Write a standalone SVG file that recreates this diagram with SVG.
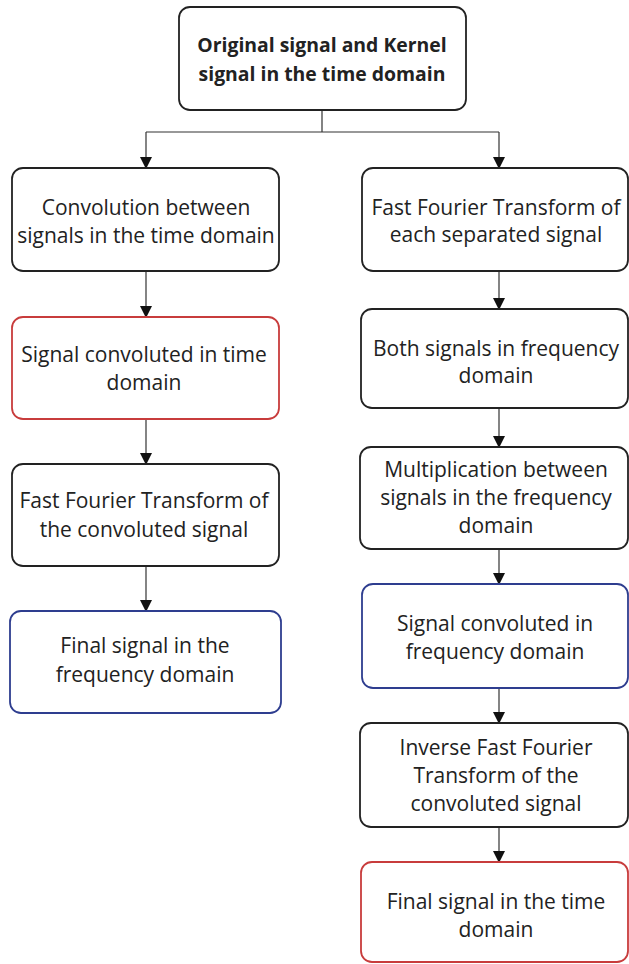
<svg xmlns="http://www.w3.org/2000/svg" width="629" height="964" viewBox="0 0 629 964">
<style>
.box{fill:#fff;stroke:#222;stroke-width:1.8}
.red{stroke:#c83c3c}
.blue{stroke:#2e3d8f}
.t{font-family:"Open Sans","Noto Sans",sans-serif;font-size:21px;fill:#222;text-anchor:middle}
.b{font-weight:bold;font-size:19.4px}
.c{stroke:#333;stroke-width:1.2;fill:none}
</style>
<defs>
<marker id="ah" markerUnits="userSpaceOnUse" markerWidth="12" markerHeight="14" refX="11" refY="6" orient="auto">
<path d="M0,0 L12,6 L0,12 Z" fill="#111"/>
</marker>
</defs>
<rect width="629" height="964" fill="#fff"/>
<g id="connectors">
<path class="c" d="M322,110 V132 M146,132 H499"/>
<path class="c" d="M146,132 V168" marker-end="url(#ah)"/>
<path class="c" d="M499,132 V168" marker-end="url(#ah)"/>
<path class="c" d="M146,271 V317" marker-end="url(#ah)"/>
<path class="c" d="M146,419 V464" marker-end="url(#ah)"/>
<path class="c" d="M146,566 V611" marker-end="url(#ah)"/>
<path class="c" d="M499,271 V309" marker-end="url(#ah)"/>
<path class="c" d="M499,408 V447" marker-end="url(#ah)"/>
<path class="c" d="M499,549 V584" marker-end="url(#ah)"/>
<path class="c" d="M499,688 V723" marker-end="url(#ah)"/>
<path class="c" d="M499,827 V862" marker-end="url(#ah)"/>
</g>
<g id="n0">
<rect class="box" x="179" y="7" width="287" height="103" rx="11"/>
<text class="t b" x="322" y="52">Original signal and Kernel</text>
<text class="t b" x="322" y="81">signal in the time domain</text>
</g>
<g id="l1">
<rect class="box" x="12" y="168" width="267" height="103" rx="11"/>
<text class="t" x="146" y="215">Convolution between</text>
<text class="t" x="146" y="243">signals in the time domain</text>
</g>
<g id="l2">
<rect class="box red" x="12" y="317" width="267" height="102" rx="11"/>
<text class="t" x="144" y="362">Signal convoluted in time</text>
<text class="t" x="144" y="390">domain</text>
</g>
<g id="l3">
<rect class="box" x="12" y="464" width="267" height="102" rx="11"/>
<text class="t" x="144" y="508">Fast Fourier Transform of</text>
<text class="t" x="144" y="537">the convoluted signal</text>
</g>
<g id="l4">
<rect class="box blue" x="10" y="611" width="271" height="102" rx="11"/>
<text class="t" x="145" y="653">Final signal in the</text>
<text class="t" x="145" y="682">frequency domain</text>
</g>
<g id="r1">
<rect class="box" x="362" y="168" width="266" height="103" rx="11"/>
<text class="t" x="496" y="215">Fast Fourier Transform of</text>
<text class="t" x="496" y="242">each separated signal</text>
</g>
<g id="r2">
<rect class="box" x="361" y="309" width="267" height="99" rx="11"/>
<text class="t" x="496" y="356">Both signals in frequency</text>
<text class="t" x="496" y="383">domain</text>
</g>
<g id="r3">
<rect class="box" x="360" y="447" width="268" height="102" rx="11"/>
<text class="t" x="496" y="477">Multiplication between</text>
<text class="t" x="496" y="505">signals in the frequency</text>
<text class="t" x="496" y="533">domain</text>
</g>
<g id="r4">
<rect class="box blue" x="362" y="584" width="266" height="104" rx="11"/>
<text class="t" x="495" y="631">Signal convoluted in</text>
<text class="t" x="495" y="659">frequency domain</text>
</g>
<g id="r5">
<rect class="box" x="360" y="723" width="268" height="104" rx="11"/>
<text class="t" x="496" y="755">Inverse Fast Fourier</text>
<text class="t" x="496" y="783">Transform of the</text>
<text class="t" x="496" y="811">convoluted signal</text>
</g>
<g id="r6">
<rect class="box red" x="361" y="862" width="267" height="100" rx="11"/>
<text class="t" x="496" y="909">Final signal in the time</text>
<text class="t" x="496" y="937">domain</text>
</g>
</svg>
